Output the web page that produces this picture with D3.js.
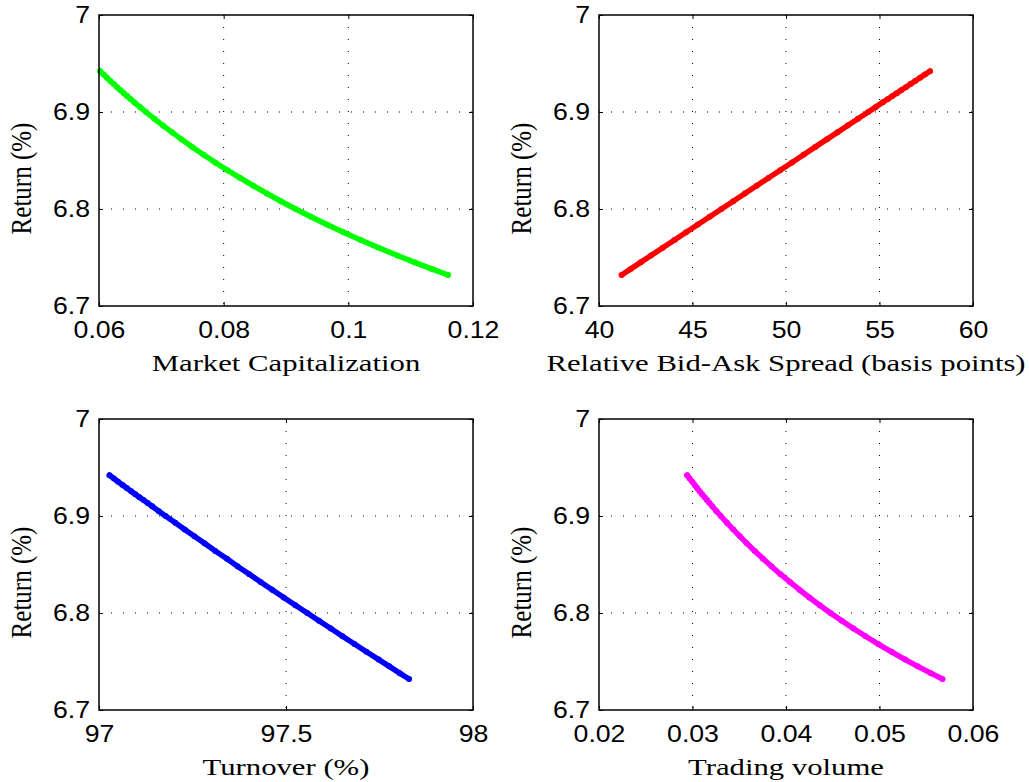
<!doctype html>
<html>
<head>
  <meta charset="utf-8">
  <title>Return vs liquidity measures</title>
  <script src="https://cdn.jsdelivr.net/npm/d3@7"></script>
  <style>
    body { margin: 0; background: #fff; }
    .tick text { font-family: "Liberation Sans", Arial, sans-serif; font-size: 23px; fill: #000; }
    .lbl { font-family: "Liberation Serif", "Times New Roman", serif; font-size: 24px; fill: #000; }
  </style>
</head>
<body>
<div class="graphContainer"></div>
<script>
// return (%) shared by all four panels, read top to bottom
var returns = [6.942, 6.9386, 6.9353, 6.9320, 6.9288, 6.9256, 6.9225, 6.9194, 6.9164, 6.9134,
  6.910, 6.905, 6.900, 6.893, 6.886, 6.879, 6.872, 6.864, 6.856, 6.848,
  6.840, 6.832, 6.824, 6.816, 6.808, 6.800, 6.792, 6.784, 6.776, 6.768,
  6.760, 6.752, 6.745, 6.738, 6.732];

var marketCap = [0.06019, 0.06074, 0.06128, 0.06182, 0.06236, 0.06291, 0.06344, 0.06398, 0.06451, 0.06505,
  0.06566, 0.06659, 0.06753, 0.06889, 0.07028, 0.07172, 0.07320, 0.07495, 0.07677, 0.07865,
  0.08060, 0.08263, 0.08473, 0.08691, 0.08918, 0.09154, 0.09399, 0.09655, 0.09921, 0.10198,
  0.10487, 0.10788, 0.11062, 0.11347, 0.11601];

var bidAskSpread = [57.70, 57.43, 57.17, 56.91, 56.66, 56.41, 56.16, 55.92, 55.69, 55.45,
  55.18, 54.79, 54.40, 53.85, 53.30, 52.75, 52.20, 51.57, 50.94, 50.32,
  49.69, 49.06, 48.43, 47.80, 47.18, 46.55, 45.92, 45.29, 44.66, 44.04,
  43.41, 42.78, 42.23, 41.68, 41.21];

var turnover = [97.028, 97.040, 97.051, 97.063, 97.074, 97.086, 97.097, 97.108, 97.119, 97.130,
  97.142, 97.160, 97.178, 97.204, 97.229, 97.255, 97.282, 97.311, 97.342, 97.371,
  97.402, 97.432, 97.463, 97.494, 97.525, 97.557, 97.588, 97.620, 97.651, 97.683,
  97.715, 97.748, 97.776, 97.804, 97.829];

var tradingVolume = [0.02943, 0.02970, 0.02997, 0.03023, 0.03049, 0.03076, 0.03102, 0.03129, 0.03155, 0.03181,
  0.03211, 0.03256, 0.03302, 0.03369, 0.03437, 0.03507, 0.03579, 0.03665, 0.03754, 0.03846,
  0.03941, 0.04041, 0.04143, 0.04250, 0.04361, 0.04476, 0.04596, 0.04721, 0.04851, 0.04987,
  0.05128, 0.05275, 0.05409, 0.05549, 0.05673];

var returnTicks = [6.7, 6.8, 6.9, 7];
var capTicks = [0.06, 0.08, 0.1, 0.12];
var spreadTicks = [40, 45, 50, 55, 60];
var turnoverTicks = [97, 97.5, 98];
var volumeTicks = [0.02, 0.03, 0.04, 0.05, 0.06];

var w = 1029, h = 782;
var pw = 374, ph = 291;
var sx = 1.16; // picture is stretched sideways

var svg = d3.select(".graphContainer").append("svg")
    .attr("width", w)
    .attr("height", h);

function stretch(sel) {
  sel.each(function() {
    var t = d3.select(this);
    var x = +t.attr("x") || 0, y = +t.attr("y") || 0;
    t.attr("x", 0).attr("y", 0)
     .attr("transform", "translate(" + x + "," + y + ") scale(" + sx + ",1)");
  });
}

function panel(left, top, xs, ticks, color, label) {
  var x = d3.scaleLinear().domain([ticks[0], ticks[ticks.length - 1]]).range([0, pw]);
  var y = d3.scaleLinear().domain([6.7, 7]).range([ph, 0]);
  var g = svg.append("g").attr("transform", "translate(" + left + "," + top + ")");

  // dotted grid
  g.selectAll(".gx").data(ticks.slice(1, -1)).enter().append("line")
    .attr("x1", d => x(d)).attr("x2", d => x(d)).attr("y1", 0).attr("y2", ph)
    .attr("stroke", "#000").attr("stroke-width", 1).attr("stroke-dasharray", "1,11");
  g.selectAll(".gy").data(returnTicks.slice(1, -1)).enter().append("line")
    .attr("y1", d => y(d)).attr("y2", d => y(d)).attr("x1", 0).attr("x2", pw)
    .attr("stroke", "#000").attr("stroke-width", 1).attr("stroke-dasharray", "1,11");

  var pts = xs.map((v, i) => [v, returns[i]]);
  g.append("path").datum(pts)
    .attr("d", d3.line().x(d => x(d[0])).y(d => y(d[1])))
    .attr("fill", "none").attr("stroke", color).attr("stroke-width", 5.5)
    .attr("stroke-linecap", "round").attr("stroke-linejoin", "round");
  g.selectAll(".dot").data(pts).enter().append("circle")
    .attr("cx", d => x(d[0])).attr("cy", d => y(d[1])).attr("r", 3)
    .attr("fill", color);

  // axes with inward ticks
  var bx = g.append("g").attr("transform", "translate(0," + ph + ")")
    .call(d3.axisBottom(x).tickValues(ticks).tickFormat(String).tickSizeInner(-4).tickSizeOuter(0).tickPadding(16));
  var ly = g.append("g")
    .call(d3.axisLeft(y).tickValues(returnTicks).tickFormat(String).tickSizeInner(-4).tickSizeOuter(0).tickPadding(9));
  g.append("g")
    .call(d3.axisTop(x).tickValues(ticks).tickFormat("").tickSizeInner(-4).tickSizeOuter(0));
  g.append("g").attr("transform", "translate(" + pw + ",0)")
    .call(d3.axisRight(y).tickValues(returnTicks).tickFormat("").tickSizeInner(-4).tickSizeOuter(0));
  g.selectAll(".domain").remove();
  g.selectAll(".tick line").attr("stroke", "#000");
  bx.selectAll(".tick text").call(stretch);
  ly.selectAll(".tick text").call(stretch);

  g.append("rect").attr("width", pw).attr("height", ph)
    .attr("fill", "none").attr("stroke", "#000").attr("stroke-width", 1.5);

  g.append("text").attr("class", "lbl")
    .attr("text-anchor", "middle")
    .attr("transform", "translate(" + pw / 2 + "," + (ph + 65) + ") scale(1.28,1)")
    .text(label);
  g.append("text").attr("class", "lbl")
    .attr("text-anchor", "middle")
    .style("font-size", "25px")
    .attr("transform", "translate(" + (-68) + "," + (ph / 2 + 18) + ") rotate(-90) scale(1,1.2)")
    .text("Return (%)");
}

panel(99, 15, marketCap, capTicks, "#00ff00", "Market Capitalization");
panel(599, 15, bidAskSpread, spreadTicks, "#ff0000", "Relative Bid-Ask Spread (basis points)");
panel(99, 419, turnover, turnoverTicks, "#0000ff", "Turnover (%)");
panel(599, 419, tradingVolume, volumeTicks, "#ff00ff", "Trading volume");
</script>
</body>
</html>
